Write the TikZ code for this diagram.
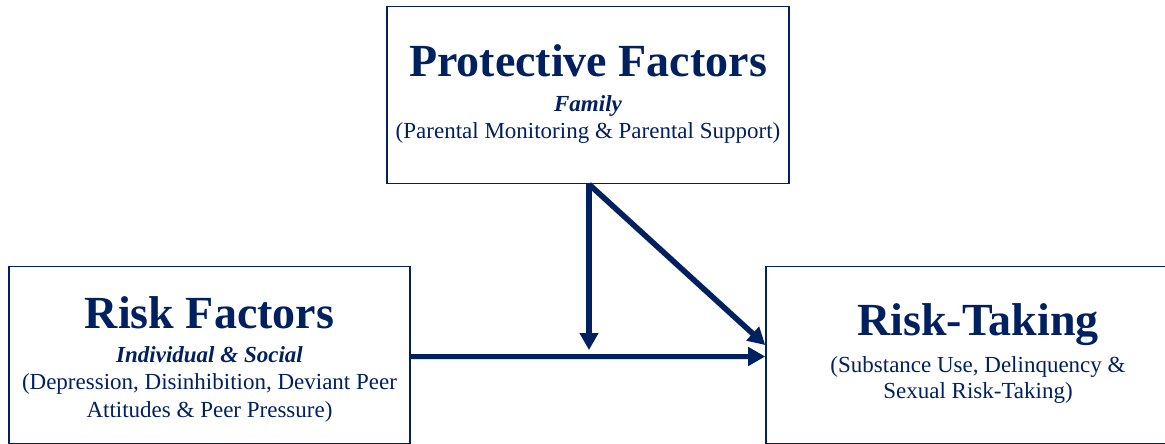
\documentclass[tikz,border=0pt]{standalone}
\usepackage{fontspec}
\setmainfont{Liberation Serif}
\usetikzlibrary{arrows.meta,calc}
\definecolor{navy}{RGB}{0,32,96}
\tikzset{
  box/.style={draw=navy, line width=1.6pt, fill=white, rectangle, inner sep=0pt},
  ttl/.style={anchor=base, text=navy, font=\fontsize{46}{50}\selectfont\bfseries, inner sep=0pt},
  sub/.style={anchor=base, text=navy, font=\fontsize{23}{27}\selectfont\bfseries\itshape, inner sep=0pt},
  txt/.style={anchor=base, text=navy, font=\fontsize{23}{27}\selectfont, inner sep=0pt},
  arr/.style={draw=navy, line width=5.5pt, -{Triangle[length=17pt,width=18pt]}},
  shd/.style={draw=black!35, opacity=0.35, line width=6pt, -{Triangle[length=17pt,width=18pt]}, shift={(1.5pt,-2pt)}}
}
\begin{document}
\begin{tikzpicture}[x=1pt,y=-1pt]
\clip (0,0) rectangle (1165,444);
\fill[white] (0,0) rectangle (1165,444);
% boxes
\node[box, minimum width=402pt, minimum height=177pt] (pf) at (588,95) {};
\node[box, minimum width=401pt, minimum height=177pt] (rf) at (209.5,355) {};
\node[box, minimum width=424pt, minimum height=177pt] (rt) at (978,355) {};
% texts
\node[ttl] (pft) at (588,77) {Protective Factors};
\node[sub] (pfs) at (588,111) {Family};
\node[txt] (pfd) at (588,138) {(Parental Monitoring \& Parental Support)};
\node[ttl] (rft) at (209.5,328) {Risk Factors};
\node[sub] (rfs) at (209.5,362) {Individual \& Social};
\node[txt] (rfd1) at (209.5,389) {(Depression, Disinhibition, Deviant Peer};
\node[txt] (rfd2) at (209.5,417) {Attitudes \& Peer Pressure)};
\node[ttl] (rtt) at (978,335) {Risk-Taking};
\node[txt] (rtd1) at (978,372) {(Substance Use, Delinquency \&};
\node[txt] (rtd2) at (978,398) {Sexual Risk-Taking)};
% connectors
\coordinate (pfo) at ([xshift=1pt]pf.south);
\coordinate (mid) at (pfo |- 0,350);
\coordinate (dt) at ([yshift=10pt]rt.west);
\coordinate (hs) at ([yshift=-1.5pt]rf.east);
\begin{scope}
\draw[shd] (pfo) -- (mid);
\draw[shd] (pfo) -- (dt);
\draw[shd] (hs) -- (hs -| rt.west);
\end{scope}
\draw[arr] (pfo) -- (mid);
\draw[arr] (pfo) -- (dt);
\draw[arr] (hs) -- (hs -| rt.west);
\end{tikzpicture}
\end{document}
